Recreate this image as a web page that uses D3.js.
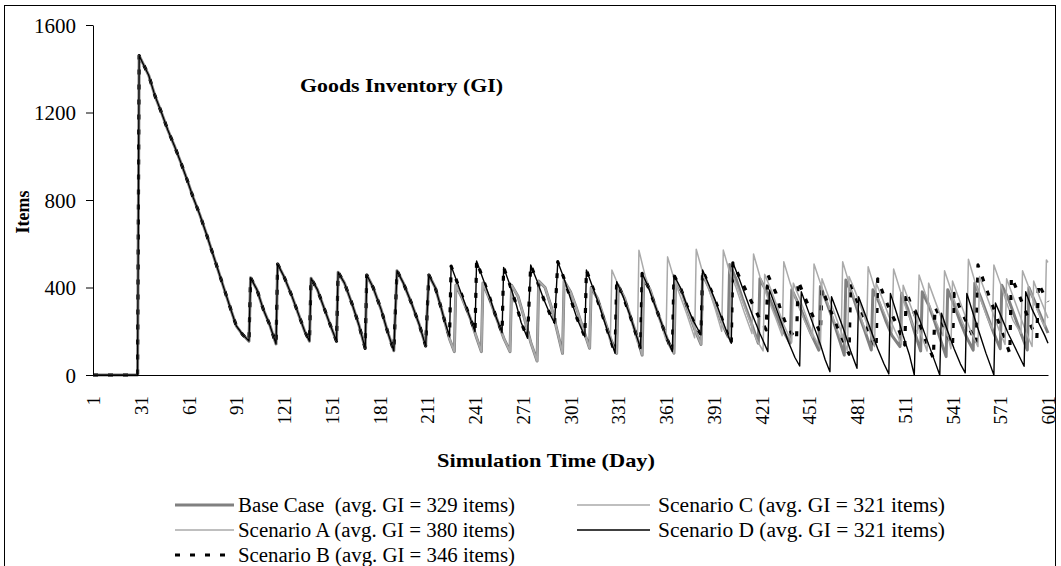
<!DOCTYPE html>
<html>
<head>
<meta charset="utf-8">
<script src="https://cdn.jsdelivr.net/npm/d3@7"></script>
<style>
  body { margin: 0; background: #fff; }
  svg text { font-family: "Liberation Serif", "Times New Roman", Times, serif; fill: #000; }
</style>
</head>
<body>
<svg id="chart" width="1061" height="566"></svg>
<script>
// [day, items] vertices
const commonGI = [
  [1,0],[29,0],[30,1460],[33,1415],[36,1370],[40,1275],[44,1200],[48,1120],[52,1050],[56,975],
  [60,895],[64,810],[68,735],[72,650],[76,560],[80,470],[84,380],[88,290],[91,225],[95,185],[99,155],
  [100,445],[104,390],[108,300],[112,230],[116,142],
  [117,507],[121,450],[126,360],[131,260],[134,200],[137,155],
  [138,442],[142,390],[146,310],[150,230],[154,155],
  [155,470],[159,420],[164,320],[168,230],[172,122],
  [173,457],[177,400],[182,300],[186,200],[190,111],
  [192,477],[196,420],[201,330],[206,230],[210,133],
  [212,457],[216,400],[220,300],[222,245]
];

const baseTail = [
  [225,165],[228,107],[229,410],[233,350],[238,260],[242,170],[245,107],[246,420],[250,350],[255,250],
  [259,170],[263,107],[264,410],[268,360],[272,260],[276,150],[280,64],[281,430],[285,400],[289,310],
  [293,190],[296,99],[297,430],[301,380],[305,300],[309,210],[313,122],[314,400],[318,350],[322,260],
  [326,170],[330,99],[331,410],[335,350],[339,260],[343,170],[346,91],[347,440],[351,390],[355,300],
  [359,220],[363,140],[366,100],[367,430],[371,380],[375,290],[379,210],[383,140],[384,460],[388,400],
  [392,320],[396,240],[400,175],[401,505],[405,440],[409,350],[414,250],[419,145],[420,440],[425,370],
  [430,280],[434,210],[439,145],[440,390],[444,330],[448,260],[452,190],[457,114],[458,404],[462,330],
  [466,250],[470,160],[473,91],[474,434],[478,370],[482,280],[486,200],[490,114],[491,390],[495,330],
  [499,250],[503,180],[508,130],[509,373],[513,300],[517,200],[521,110],[522,380],[526,320],[530,240],
  [534,150],[537,84],[538,390],[542,320],[546,240],[550,170],[554,114],[555,420],[559,350],[563,270],
  [567,190],[571,120],[572,410],[576,350],[580,270],[584,190],[588,114],[589,400],[593,330],[597,260],
  [601,192]
];

const scenarioATail = [
  [326,150],[327,480],[331,410],[335,350],[339,250],[343,150],[344,570],[348,450],[352,370],[356,280],
  [361,160],[362,540],[366,440],[370,360],[374,280],[379,170],[380,575],[384,470],[388,390],[392,300],
  [396,200],[397,571],[401,470],[405,400],[410,290],[415,190],[416,553],[420,450],[425,350],[430,260],
  [434,180],[435,518],[439,420],[443,340],[448,250],[453,170],[454,507],[458,420],[462,340],[466,260],
  [471,160],[472,518],[476,420],[480,340],[484,250],[487,190],[488,495],[492,400],[496,320],[500,250],
  [503,200],[504,485],[508,390],[512,300],[516,230],[519,190],[520,457],[524,370],[528,290],[532,220],
  [535,180],[536,477],[540,390],[544,300],[548,230],[550,200],[551,529],[555,430],[559,340],[563,260],
  [566,210],[567,503],[571,420],[575,330],[579,250],[584,190],[585,477],[589,400],[593,320],[597,250],
  [599,220],[600,526],[601,515]
];

// B and D run together until day 403
const blackMid = [
  [225,175],[226,498],[230,420],[234,340],[238,260],[241,198],[242,521],[246,440],[250,360],[254,270],
  [258,193],[259,492],[263,410],[267,320],[270,240],[274,168],[276,503],[280,430],[284,350],[288,280],
  [291,236],[293,518],[297,440],[301,350],[305,260],[310,175],[311,480],[315,400],[319,320],[323,230],
  [329,99],[330,427],[334,360],[338,280],[342,190],[345,122],[346,465],[350,400],[354,320],[358,240],
  [362,160],[365,107],[366,457],[370,400],[374,320],[378,250],[383,183],[384,480],[388,410],[392,340],
  [396,260],[400,180],[402,145],[403,513]
];

const scenarioBTail = [
  [407,450],[411,390],[415,330],[419,270],[424,206],[425,457],[430,376],[433,297],[437,221],[443,160],
  [444,431],[448,360],[452,290],[455,240],[458,192],[459,396],[463,320],[467,250],[471,180],[476,95],
  [477,419],[481,340],[485,270],[489,190],[493,120],[494,440],[498,360],[502,290],[506,230],[511,137],
  [512,381],[516,300],[520,230],[524,160],[529,76],[530,312],[534,250],[538,180],[541,130],[542,373],
  [546,300],[550,240],[553,190],[556,145],[557,503],[561,420],[565,340],[569,260],[573,180],[577,99],
  [578,449],[582,380],[586,310],[590,230],[594,168],[595,419],[599,360],[601,335]
];

const scenarioCTail = [
  [384,460],[388,400],[392,320],[396,240],[401,160],[402,470],[406,400],[410,320],[414,240],[418,160],
  [422,110],[423,460],[427,390],[431,310],[435,230],[440,150],[441,420],[445,350],[449,270],[453,190],
  [458,120],[459,440],[463,360],[467,280],[471,200],[475,110],[476,450],[480,380],[484,300],[488,220],
  [492,130],[493,420],[497,350],[501,270],[505,200],[509,140],[510,410],[514,330],[518,250],[522,170],
  [525,110],[526,420],[530,340],[534,260],[538,180],[540,120],[541,430],[545,350],[549,270],[553,190],
  [557,130],[558,450],[562,370],[566,290],[570,210],[574,140],[575,440],[579,360],[583,280],[587,200],
  [591,130],[592,430],[596,350],[601,260]
];

const scenarioDTail = [
  [407,440],[411,360],[415,280],[420,190],[425,107],[426,389],[430,310],[434,230],[438,150],[442,80],
  [445,41],[446,381],[450,300],[454,220],[458,140],[461,70],[464,15],[465,358],[469,280],[473,200],
  [477,110],[481,31],[482,358],[486,280],[490,200],[494,120],[498,50],[501,5],[502,373],[506,280],
  [510,180],[514,90],[517,0],[518,297],[522,220],[526,140],[530,60],[533,0],[534,283],[538,200],
  [542,120],[546,50],[549,10],[550,373],[554,280],[558,190],[562,100],[567,0],[568,329],[572,260],
  [576,190],[580,130],[584,70],[586,40],[587,381],[591,300],[595,240],[599,180],[601,145]
];

const seriesNames = [
  "Base Case  (avg. GI = 329 items)",
  "Scenario A (avg. GI = 380 items)",
  "Scenario B (avg. GI = 346 items)",
  "Scenario C (avg. GI = 321 items)",
  "Scenario D (avg. GI = 321 items)"
];
const xTicks = d3.range(1, 602, 30);
const yTicks = [0, 400, 800, 1200, 1600];

const baseCase = commonGI.concat(baseTail);
const series = [
  baseCase,
  baseCase.filter(d => d[0] <= 322).concat(scenarioATail),
  commonGI.concat(blackMid, scenarioBTail),
  baseCase.filter(d => d[0] <= 383).concat(scenarioCTail),
  commonGI.concat(blackMid, scenarioDTail)
];

const styles = [
  { stroke: "#808080", width: 3, dash: null },
  { stroke: "#aaaaaa", width: 1.5, dash: null },
  { stroke: "#000", width: 3.2, dash: "5,10" },
  { stroke: "#aaaaaa", width: 1.5, dash: null },
  { stroke: "#000", width: 1.4, dash: null }
];

const svg = d3.select("#chart");

svg.append("rect")
  .attr("x", 4.5).attr("y", 5.5)
  .attr("width", 1051).attr("height", 600)
  .attr("fill", "#fff").attr("stroke", "#000");

const x = d3.scaleLinear().domain([1, 601]).range([93, 1048]);
const y = d3.scaleLinear().domain([0, 1600]).range([375, 25]);

const line = d3.line().x(d => x(d[0])).y(d => y(d[1]));

svg.append("g")
  .selectAll("path")
  .data(series)
  .join("path")
  .attr("d", line)
  .attr("fill", "none")
  .attr("stroke", (d, i) => styles[i].stroke)
  .attr("stroke-width", (d, i) => styles[i].width)
  .attr("stroke-dasharray", (d, i) => styles[i].dash)
  .attr("stroke-linejoin", "round");

const yAxis = svg.append("g")
  .attr("transform", "translate(93,0)")
  .call(d3.axisLeft(y).tickValues(yTicks).tickFormat(d3.format("d"))
    .tickSize(7).tickSizeOuter(0).tickPadding(10));
yAxis.selectAll("text").style("font-size", "21px").attr("dy", "0.35em");

const xAxis = svg.append("g")
  .attr("transform", "translate(0,375)")
  .call(d3.axisBottom(x).tickValues(xTicks).tickFormat(d3.format("d"))
    .tickSize(0).tickSizeOuter(0));
xAxis.selectAll("text")
  .style("font-size", "19px")
  .attr("transform", "rotate(-90)")
  .attr("text-anchor", "end")
  .attr("x", -21)
  .attr("y", 0)
  .attr("dy", "0.35em");
svg.selectAll(".domain, .tick line").attr("stroke", "#000");

svg.append("text")
  .attr("x", 300).attr("y", 92)
  .attr("textLength", 203).attr("lengthAdjust", "spacingAndGlyphs")
  .style("font-size", "19px").style("font-weight", "bold")
  .text("Goods Inventory (GI)");

svg.append("text")
  .attr("transform", "translate(29,212) rotate(-90)")
  .attr("text-anchor", "middle")
  .style("font-size", "18px").style("font-weight", "bold")
  .text("Items");

svg.append("text")
  .attr("x", 437).attr("y", 467)
  .attr("textLength", 218).attr("lengthAdjust", "spacingAndGlyphs")
  .style("font-size", "19px").style("font-weight", "bold")
  .text("Simulation Time (Day)");

// legend: two columns
const legendPos = [
  { lx: 175, tx: 238, cy: 505, len: 277 },
  { lx: 175, tx: 238, cy: 530, len: 277 },
  { lx: 175, tx: 238, cy: 555, len: 277 },
  { lx: 577, tx: 658, cy: 505, len: 287 },
  { lx: 577, tx: 658, cy: 530, len: 287 }
];

const legend = svg.append("g")
  .selectAll("g")
  .data(seriesNames)
  .join("g");

legend.append("line")
  .attr("x1", (d, i) => legendPos[i].lx)
  .attr("x2", (d, i) => legendPos[i].tx - (i < 3 ? 4 : 8))
  .attr("y1", (d, i) => legendPos[i].cy)
  .attr("y2", (d, i) => legendPos[i].cy)
  .attr("stroke", (d, i) => styles[i].stroke)
  .attr("stroke-width", (d, i) => styles[i].width)
  .attr("stroke-dasharray", (d, i) => styles[i].dash);

legend.append("text")
  .attr("x", (d, i) => legendPos[i].tx)
  .attr("y", (d, i) => legendPos[i].cy + 7)
  .attr("textLength", (d, i) => legendPos[i].len)
  .attr("lengthAdjust", "spacingAndGlyphs")
  .style("font-size", "20px")
  .style("white-space", "pre")
  .text(d => d);
</script>
</body>
</html>
